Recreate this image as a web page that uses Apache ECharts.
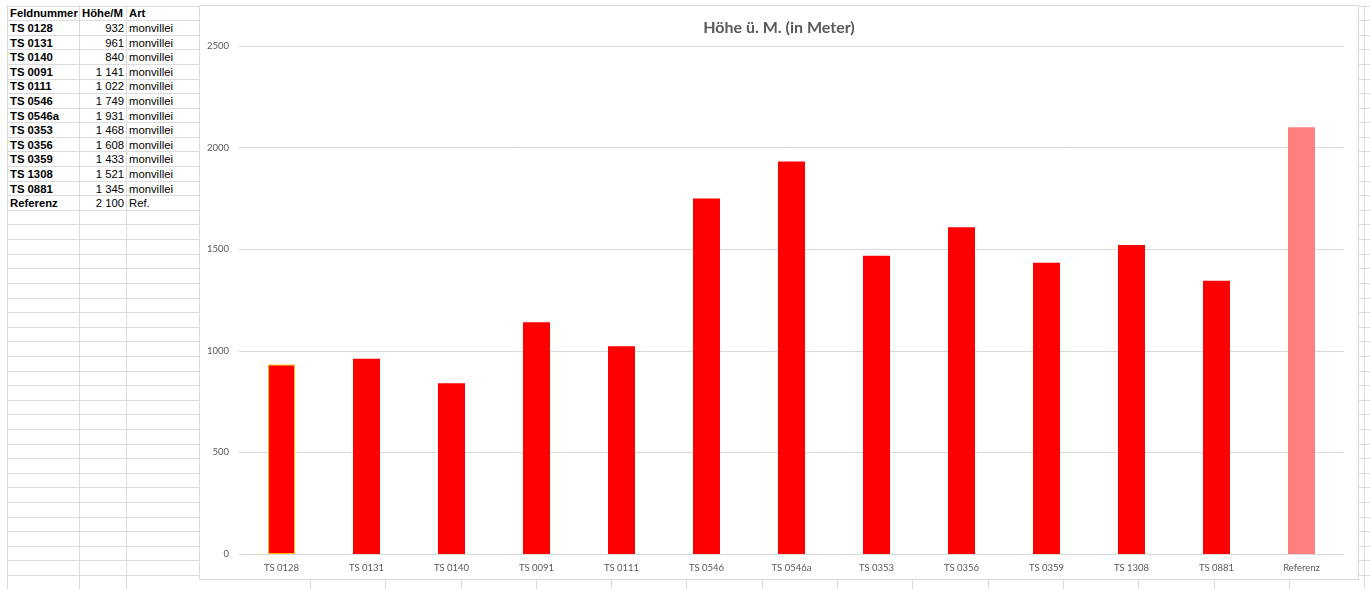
<!DOCTYPE html>
<html>
<head>
<meta charset="utf-8">
<script src="https://cdn.jsdelivr.net/npm/echarts@6/dist/echarts.min.js"></script>
<style>
  html, body { margin: 0; padding: 0; background: #fff; width: 1370px; height: 589px; overflow: hidden; }
  #sheet { position: absolute; left: 0; top: 0; width: 1370px; height: 589px; }
  .hl { position: absolute; height: 1px; background: #dcdcdc; }
  .vl { position: absolute; width: 1px; background: #dcdcdc; }
  .cell { position: absolute; font-family: "Liberation Sans", Arial, sans-serif; font-size: 11.3px; color: #000; line-height: 14px; white-space: nowrap; }
  .b { font-weight: bold; }
  #chart { position: absolute; left: 199px; top: 5px; width: 1160px; height: 575px; background: #fff; border: 1px solid #d9d9d9; box-sizing: border-box; }
</style>
</head>
<body>
<div id="sheet"></div>
<div id="chart"></div>
<script>
// ---- data ----
const headers = ["Feldnummer", "Höhe/M", "Art"];
const categories = ["TS 0128", "TS 0131", "TS 0140", "TS 0091", "TS 0111", "TS 0546", "TS 0546a", "TS 0353", "TS 0356", "TS 0359", "TS 1308", "TS 0881", "Referenz"];
const heights = [932, 961, 840, 1141, 1022, 1749, 1931, 1468, 1608, 1433, 1521, 1345, 2100];
const arts = ["monvillei", "monvillei", "monvillei", "monvillei", "monvillei", "monvillei", "monvillei", "monvillei", "monvillei", "monvillei", "monvillei", "monvillei", "Ref."];
const chartTitle = "Höhe ü. M. (in Meter)";
const yTicks = { min: 0, max: 2500, interval: 500 };

// ---- spreadsheet background ----
const sheet = document.getElementById('sheet');
const rowTop = 5.5, rowH = 14.6;
const colX = [7, 79, 126, 310];
for (let x = 310 + 75.3; x < 1370; x += 75.3) colX.push(Math.round(x));
colX.forEach(x => {
  const d = document.createElement('div'); d.className = 'vl';
  d.style.left = Math.round(x) + 'px'; d.style.top = '5px'; d.style.height = '584px';
  sheet.appendChild(d);
});
for (let y = rowTop; y < 589; y += rowH) {
  const d = document.createElement('div'); d.className = 'hl';
  d.style.left = '7px'; d.style.top = Math.round(y) + 'px'; d.style.width = '1363px';
  sheet.appendChild(d);
}
function fmt(n) { return String(n).replace(/\B(?=(\d{3})+(?!\d))/g, '\u00a0'); }
function addCell(text, row, col, bold, right) {
  const d = document.createElement('div');
  d.className = 'cell' + (bold ? ' b' : '');
  d.textContent = text;
  const top = rowTop + row * rowH + 0.8;
  d.style.top = top + 'px';
  if (right) { d.style.right = (1370 - colX[col + 1] + 2) + 'px'; }
  else { d.style.left = (colX[col] + 3) + 'px'; }
  sheet.appendChild(d);
}
addCell(headers[0], 0, 0, true, false);
addCell(headers[1], 0, 1, true, false);
addCell(headers[2], 0, 2, true, false);
categories.forEach((c, i) => {
  addCell(c, i + 1, 0, true, false);
  addCell(fmt(heights[i]), i + 1, 1, false, true);
  addCell(arts[i], i + 1, 2, false, false);
});

// ---- chart ----
const chart = echarts.init(document.getElementById('chart'), null, { renderer: 'canvas' });
const last = categories.length - 1;
const barData = heights.map((v, i) => {
  if (i === 0) return { value: v, itemStyle: { color: '#FF0000', borderColor: '#FFC000', borderWidth: 1 } };
  if (i === last) return { value: v, itemStyle: { color: '#FF7F7F' } };
  return v;
});
chart.setOption({
  animation: false,
  backgroundColor: '#fff',
  title: {
    text: chartTitle, left: 'center', top: 9,
    textStyle: { fontFamily: 'Lato, "Open Sans", sans-serif', fontSize: 16, fontWeight: 'bold', color: '#595959' }
  },
  grid: { left: 39, right: 14, top: 40, bottom: 25, containLabel: false },
  xAxis: {
    type: 'category', data: categories,
    axisLine: { lineStyle: { color: '#d9d9d9', width: 1 } },
    axisTick: { show: false },
    axisLabel: { fontFamily: 'Lato, "Open Sans", sans-serif', fontSize: 9.5, color: '#595959', margin: 9, interval: 0 }
  },
  yAxis: {
    type: 'value', min: yTicks.min, max: yTicks.max, interval: yTicks.interval,
    axisLine: { show: false }, axisTick: { show: false },
    axisLabel: { fontFamily: 'Lato, "Open Sans", sans-serif', fontSize: 9.5, color: '#595959', margin: 10, formatter: v => String(v) },
    splitLine: { lineStyle: { color: '#d9d9d9', width: 1 } }
  },
  series: [{
    type: 'bar', data: barData, barWidth: 27,
    itemStyle: { color: '#FF0000' }
  }]
});
</script>
</body>
</html>
